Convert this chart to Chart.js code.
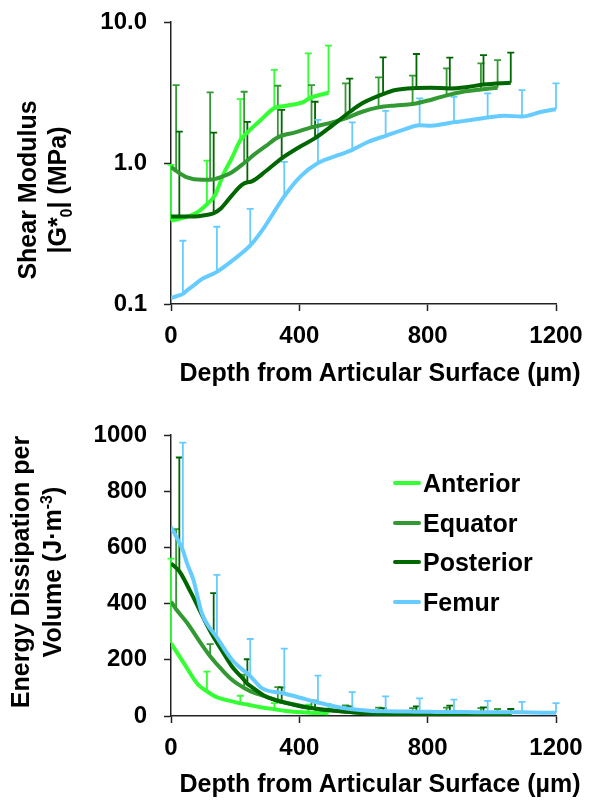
<!DOCTYPE html>
<html>
<head>
<meta charset="utf-8">
<script src="https://cdn.jsdelivr.net/npm/chart.js@4.4.1/dist/chart.umd.min.js"></script>
<style>
  body { margin: 0; background: #fff; font-family: "Liberation Sans", Arial, sans-serif; }
  #wrap { position: relative; width: 589px; height: 802px; overflow: hidden; }
  canvas { position: absolute; left: 0; }
  .ytitle { position: absolute; font-weight: bold; font-size: 25px; text-align: center; white-space: nowrap; transform: rotate(-90deg); color: #000; }
  .xtitle { position: absolute; font-weight: bold; font-size: 25px; line-height: 30px; text-align: center; white-space: nowrap; width: 500px; color: #000; }
  .leg { position: absolute; left: 393px; font-weight: bold; font-size: 25px; line-height: 30px; white-space: nowrap; color: #000; }
  .leg span { display: inline-block; width: 28px; height: 4px; border-radius: 2px; vertical-align: middle; margin-right: 2px; position: relative; top: -2px; }
  sub, sup { font-size: 16px; line-height: 0; }
</style>
</head>
<body>
<div id="wrap">
  <canvas id="gChart" width="600" height="407" style="top:-7px"></canvas>
  <canvas id="eChart" width="600" height="396" style="top:406px"></canvas>

  <div class="ytitle" style="left:-108px; top:160px; width:300px; height:60px; line-height:30px;">Shear Modulus<br>|G*<sub>0</sub>| (MPa)</div>
  <div class="ytitle" style="left:-124px; top:540px; width:320px; height:64px; line-height:32px;">Energy Dissipation per<br>Volume (J·m<sup>-3</sup>)</div>

  <div class="xtitle" style="left:130px; top:357px;">Depth from Articular Surface (µm)</div>
  <div class="xtitle" style="left:130px; top:768px;">Depth from Articular Surface (µm)</div>

  <div class="leg" style="top:468px;"><span style="background:#33ff33"></span>Anterior</div>
  <div class="leg" style="top:508px;"><span style="background:#339933"></span>Equator</div>
  <div class="leg" style="top:547px;"><span style="background:#006600"></span>Posterior</div>
  <div class="leg" style="top:587px;"><span style="background:#66ccff"></span>Femur</div>
</div>

<script>
// tick labels
const depthTicks = [0, 400, 800, 1200];
const gTicks = [0.1, 1, 10];
const eTicks = [0, 200, 400, 600, 800, 1000];

const seriesNames = ["Anterior", "Equator", "Posterior", "Femur"];
const seriesColors = ["#33ff33", "#339933", "#006600", "#66ccff"];

// ANTERIOR
const antDepth = [0, 40, 84, 112, 137, 162, 191, 216, 241, 278, 322, 359, 412, 428, 444, 491];
const antG     = [0.39, 0.41, 0.45, 0.51, 0.59, 0.82, 1.1, 1.45, 1.67, 2.0, 2.45, 2.55, 2.7, 2.85, 2.95, 3.15];
const antGHi   = [0.97, null, null, 1.04, null, null, null, 2.84, null, null, 4.57, null, null, 6.0, null, 6.8];
const antE     = [259, 188, 112, 88, 70, 60, 52, 45, 40, 31, 24, 18, 13, 12, 11, 10];
const antEHi   = [560, null, null, 158, null, null, null, 72, null, null, 46, null, null, 40, null, 42];

// EQUATOR
const equDepth = [0, 16, 50, 96, 122, 160, 190, 228, 260, 294, 333, 387, 438, 491, 544, 596, 647, 700, 753, 809, 859, 910, 966, 1018];
const equG     = [0.94, 0.88, 0.79, 0.76, 0.76, 0.80, 0.86, 1.0, 1.15, 1.31, 1.52, 1.65, 1.79, 1.91, 2.07, 2.31, 2.48, 2.56, 2.62, 2.8, 3.02, 3.2, 3.32, 3.42];
const equGHi   = [null, 3.57, null, null, 3.17, null, null, 3.2, null, null, 3.53, null, 3.57, null, 3.67, null, 4.05, null, 4.16, null, 4.69, null, 5.09, 5.37];
const equE     = [407, 380, 332, 254, 213, 163, 129, 100, 82, 70, 55, 40, 28, 20, 15, 11, 9, 7, 6, 5, 5, 4, 4, 4];
const equEHi   = [null, 665, null, null, 256, null, null, 147, null, null, 103, null, 55, null, 38, null, 30, null, 28, null, 30, null, 28, 25];

// POSTERIOR
const posDepth = [0, 26, 63, 115, 133, 157, 190, 221, 238, 252, 294, 345, 403, 449, 491, 557, 596, 661, 700, 765, 809, 869, 920, 974, 1059];
const posG     = [0.417, 0.417, 0.417, 0.43, 0.44, 0.48, 0.59, 0.70, 0.73, 0.74, 0.87, 1.08, 1.31, 1.5, 1.76, 2.3, 2.65, 3.08, 3.29, 3.4, 3.42, 3.38, 3.45, 3.6, 3.71];
const posGHi   = [null, 1.67, null, null, 1.64, null, null, null, 1.96, null, null, 2.38, null, 2.72, null, 3.97, null, 5.61, null, 5.93, null, 5.58, null, 5.82, 6.06];
const posE     = [543, 515, 437, 317, 280, 236, 176, 137, 115, 103, 70, 50, 35, 27, 21, 14, 11, 7, 6, 5, 4, 4, 3, 3, 2];
const posEHi   = [null, 920, null, null, 437, null, null, null, 202, null, null, 102, null, 55, null, 34, null, 28, null, 34, null, 37, null, 31, 25];

// FEMUR
const femDepth = [0, 20, 37, 50, 70, 96, 143, 190, 247, 283, 353, 403, 458, 523, 565, 617, 669, 721, 775, 809, 844, 882, 916, 987, 1041, 1094, 1155, 1200];
const femG     = [0.110, 0.114, 0.118, 0.125, 0.135, 0.150, 0.169, 0.202, 0.26, 0.33, 0.58, 0.80, 1.0, 1.14, 1.24, 1.42, 1.56, 1.71, 1.85, 1.84, 1.88, 1.95, 1.99, 2.1, 2.16, 2.14, 2.31, 2.41];
const femGHi   = [null, null, 0.281, null, null, null, 0.353, null, 0.472, null, 1.02, null, 2.02, null, 1.94, null, 2.34, null, 2.87, null, null, 2.95, null, 3.12, null, 3.29, null, 3.67];
const femE     = [673, 630, 590, 543, 484, 366, 280, 200, 142, 99, 80, 65, 48, 31, 24, 19, 17, 16, 15, 15, 14, 14, 14, 13, 13, 13, 12, 12];
const femEHi   = [null, null, 973, null, null, null, 502, null, 274, null, 240, null, 144, null, 85, null, 70, null, 63, null, null, 58, null, 54, null, 50, null, 46];

function pts(depth, vals, hi) {
    return depth.map((d, i) => ({ x: d, y: vals[i], hi: hi[i] }));
}

// error bars (upper only, with cap)
const errorBars = {
    id: "errorBars",
    beforeDatasetsDraw(chart) {
        const ctx = chart.ctx;
        const xs = chart.scales.x, ys = chart.scales.y;
        ctx.save();
        chart.data.datasets.forEach(ds => {
            ctx.strokeStyle = ds.borderColor;
            ctx.lineWidth = 1.8;
            ds.data.forEach(p => {
                if (p.hi == null) return;
                const px = xs.getPixelForValue(p.x);
                const y0 = ys.getPixelForValue(p.y);
                const y1 = ys.getPixelForValue(p.hi);
                ctx.beginPath();
                ctx.moveTo(px, y0);
                ctx.lineTo(px, y1);
                ctx.moveTo(px - 3.5, y1);
                ctx.lineTo(px + 3.5, y1);
                ctx.stroke();
            });
        });
        ctx.restore();
    }
};

const tickFont = { family: "Liberation Sans", size: 24, weight: "bold", lineHeight: 1 };

function xAxis(h) {
    return {
        type: "linear", min: 0, max: 1200,
        afterBuildTicks: s => { s.ticks = depthTicks.map(v => ({ value: v })); },
        afterFit: s => { s.height = h; },
        grid: { drawOnChartArea: false, drawTicks: true, tickLength: 7, tickColor: "#222", tickWidth: 1.5 },
        border: { color: "#222", width: 1.5 },
        ticks: { color: "#000", font: tickFont, padding: 13, maxRotation: 0, autoSkip: false, callback: v => String(v) }
    };
}

function yAxisBase() {
    return {
        afterFit: s => { s.width = 171; },
        grid: { drawOnChartArea: false, drawTicks: true, tickLength: 7, tickColor: "#222", tickWidth: 1.5 },
        border: { color: "#222", width: 1.5 },
        ticks: { color: "#000", font: tickFont, padding: 17, autoSkip: false, callback: v => String(v) }
    };
}

function makeDatasets(sets) {
    return sets.map((data, i) => ({
        label: seriesNames[i],
        data: data,
        borderColor: seriesColors[i],
        backgroundColor: seriesColors[i],
        borderWidth: 4,
        pointRadius: 0,
        cubicInterpolationMode: "monotone",
        fill: false,
        order: 3 - i
    }));
}

// SHEAR MODULUS CHART
const gY = yAxisBase();
gY.type = "logarithmic";
gY.min = 0.1;
gY.max = 10;
gY.afterBuildTicks = s => { s.ticks = gTicks.map(v => ({ value: v })); };
gY.ticks.callback = v => Number(v).toFixed(1);

new Chart(document.getElementById("gChart"), {
    type: "line",
    data: {
        datasets: makeDatasets([
            pts(antDepth, antG, antGHi),
            pts(equDepth, equG, equGHi),
            pts(posDepth, posG, posGHi),
            pts(femDepth, femG, femGHi)
        ])
    },
    options: {
        responsive: false,
        animation: false,
        devicePixelRatio: 1,
        layout: { padding: { top: 0, right: 44, left: 0, bottom: 0 } },
        plugins: { legend: { display: false }, tooltip: { enabled: false } },
        scales: { x: xAxis(96), y: gY }
    },
    plugins: [errorBars]
});

// ENERGY DISSIPATION CHART
const eY = yAxisBase();
eY.type = "linear";
eY.min = 0;
eY.max = 1000;
eY.afterBuildTicks = s => { s.ticks = eTicks.map(v => ({ value: v })); };

new Chart(document.getElementById("eChart"), {
    type: "line",
    data: {
        datasets: makeDatasets([
            pts(antDepth, antE, antEHi),
            pts(equDepth, equE, equEHi),
            pts(posDepth, posE, posEHi),
            pts(femDepth, femE, femEHi)
        ])
    },
    options: {
        responsive: false,
        animation: false,
        devicePixelRatio: 1,
        layout: { padding: { top: 0, right: 44, left: 0, bottom: 0 } },
        plugins: { legend: { display: false }, tooltip: { enabled: false } },
        scales: { x: xAxis(86), y: eY }
    },
    plugins: [errorBars]
});
</script>
</body>
</html>
